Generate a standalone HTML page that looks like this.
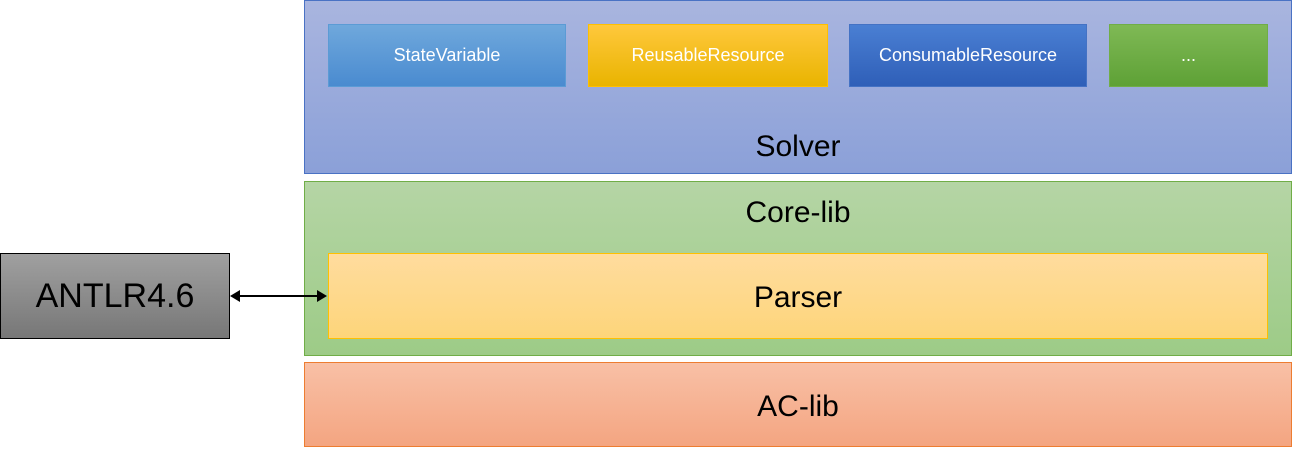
<!DOCTYPE html>
<html><head><style>
body{margin:0;width:1292px;height:451px;background:#fff;position:relative;overflow:hidden;font-family:"Liberation Sans",sans-serif}
.b{position:absolute;box-sizing:border-box;display:flex;justify-content:center;color:#000}
.s{color:#fff;font-size:18px;align-items:center}
</style></head><body>
<div class="b" style="left:304px;top:0;width:988px;height:174px;background:linear-gradient(#a9b5df,#8ba0d8);border:1px solid #4a72c4;align-items:flex-end;padding-bottom:9px;font-size:30px">Solver</div>
<div class="b s" style="left:328px;top:24px;width:238px;height:63px;background:linear-gradient(#6fa8dc,#4a8bd0);border:1px solid #5b9bd5">StateVariable</div>
<div class="b s" style="left:588px;top:24px;width:240px;height:63px;background:linear-gradient(#ffc83d,#e9b400);border:1px solid #ffc000">ReusableResource</div>
<div class="b s" style="left:849px;top:24px;width:238px;height:63px;background:linear-gradient(#4a7fd3,#2f5fb8);border:1px solid #4472c4">ConsumableResource</div>
<div class="b s" style="left:1109px;top:24px;width:159px;height:63px;background:linear-gradient(#7fb955,#5ea136);border:1px solid #70ad47">...</div>
<div class="b" style="left:304px;top:181px;width:988px;height:175px;background:linear-gradient(#b5d5a5,#9dcb87);border:1px solid #70ad47;padding-top:14px;font-size:30px">Core-lib</div>
<div class="b" style="left:328px;top:253px;width:940px;height:86px;background:linear-gradient(#ffdc9e,#fdd57a);border:1px solid #ffc000;align-items:center;padding-top:4px;font-size:30px">Parser</div>
<div class="b" style="left:304px;top:362px;width:988px;height:85px;background:linear-gradient(#f8c0a6,#f4a581);border:1px solid #ed7d31;align-items:center;padding-top:4px;font-size:30px">AC-lib</div>
<div class="b" style="left:0;top:253px;width:230px;height:86px;background:linear-gradient(#a0a0a0,#777);border:1px solid #000;align-items:center;font-size:34px">ANTLR4.6</div>
<svg style="position:absolute;left:0;top:0" width="1292" height="451">
<line x1="238" y1="296" x2="318" y2="296" stroke="#000" stroke-width="2"/>
<polygon points="230,296 240,290 240,302" fill="#000"/>
<polygon points="327,296 317,290 317,302" fill="#000"/>
</svg>
</body></html>
